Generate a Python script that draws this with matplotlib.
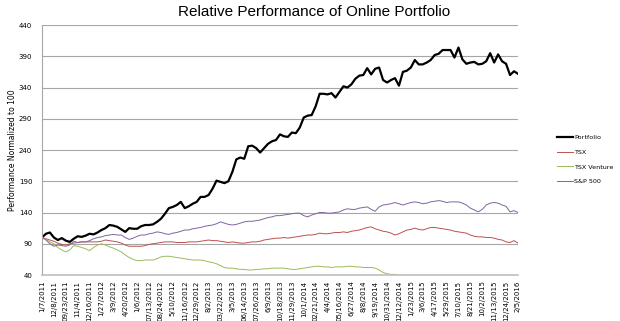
import matplotlib
matplotlib.use("Agg")
import matplotlib.pyplot as plt
import numpy as np

# category labels shown on the x axis (one every 3 data points)
tick_labels = ['1/7/2011', '12/8/2011', '09/23/2011', '11/4/2011', '12/16/2011', '1/27/2012',
               '3/9/2012', '4/20/2012', '1/6/2012', '07/13/2012', '08/24/2012', '5/10/2012',
               '11/16/2012', '12/29/2012', '8/2/2013', '03/22/2013', '3/5/2013', '06/14/2013',
               '07/26/2013', '6/9/2013', '10/18/2013', '11/29/2013', '10/1/2014', '02/21/2014',
               '4/4/2014', '05/16/2014', '6/27/2014', '8/8/2014', '9/19/2014', '10/31/2014',
               '12/12/2014', '1/23/2015', '3/6/2015', '4/17/2015', '5/29/2015', '7/10/2015',
               '8/21/2015', '10/2/2015', '11/13/2015', '12/24/2015', '2/5/2016']

portfolio = [100, 106, 108, 100, 96, 99, 95, 93, 98, 102, 101, 103, 106, 105, 108, 112, 115, 120,
             119, 117, 113, 109, 115, 114, 114, 118, 120, 120, 121, 125, 130, 138, 147, 149, 152,
             157, 147, 150, 154, 157, 165, 165, 168, 178, 191, 189, 187, 190, 205, 225, 228, 226,
             246, 247, 243, 236, 243, 250, 254, 256, 265, 262, 261, 268, 267, 276, 292, 295, 296,
             310, 330, 330, 329, 331, 324, 333, 342, 340, 345, 354, 359, 360, 371, 361, 370, 372,
             352, 348, 352, 355, 343, 365, 367, 372, 384, 377, 377, 380, 384, 392, 394, 400, 400,
             400, 388, 404, 385, 378, 380, 381, 377, 378, 382, 395, 380, 393, 382, 378, 360, 366,
             362]

tsx = [100, 98, 96, 94, 91, 89, 88, 90, 91, 92, 93, 93, 93, 93, 93, 94, 96, 95, 94, 93, 91, 88,
       86, 86, 86, 86, 87, 89, 90, 91, 92, 93, 93, 93, 92, 92, 92, 93, 93, 93, 94, 95, 96, 95, 95,
       94, 93, 92, 93, 92, 91, 91, 92, 93, 93, 94, 96, 97, 98, 99, 99, 100, 99, 100, 101, 102, 103,
       104, 104, 105, 107, 106, 106, 107, 108, 108, 109, 108, 110, 111, 112, 114, 116, 117, 114,
       112, 110, 109, 107, 104, 106, 109, 112, 113, 115, 113, 112, 114, 116, 116, 115, 114, 113,
       112, 110, 109, 108, 107, 104, 102, 101, 101, 100, 100, 99, 97, 96, 93, 92, 95, 91]

tsx_venture = [100, 97, 93, 90, 84, 80, 77, 80, 87, 86, 84, 82, 79, 84, 88, 90, 88, 85, 83, 80,
               77, 72, 68, 65, 63, 63, 64, 64, 64, 66, 69, 70, 70, 69, 68, 67, 66, 65, 64, 64, 64,
               63, 61, 60, 58, 55, 52, 51, 51, 50, 49, 49, 48, 48, 49, 49, 50, 50, 51, 51, 51, 51,
               50, 49, 49, 50, 51, 52, 53, 54, 54, 53, 53, 52, 53, 53, 53, 54, 54, 53, 53, 52, 52,
               52, 51, 48, 44, 42, 41, 41, 40] + [np.nan] * 30

sp500 = [100, 96, 90, 86, 88, 87, 86, 88, 94, 92, 93, 93, 95, 98, 100, 101, 103, 104, 105, 104,
         104, 100, 97, 99, 102, 104, 104, 106, 107, 109, 108, 106, 105, 107, 108, 110, 112, 112,
         114, 115, 116, 118, 119, 120, 122, 125, 123, 121, 120, 121, 123, 125, 126, 126, 127, 128,
         130, 132, 133, 135, 135, 136, 137, 138, 139, 139, 135, 133, 136, 138, 140, 140, 139, 139,
         140, 141, 144, 146, 145, 145, 147, 148, 149, 145, 142, 149, 152, 153, 154, 156, 154, 152,
         154, 156, 157, 156, 154, 155, 157, 158, 159, 158, 156, 157, 157, 157, 155, 152, 147, 144,
         141, 145, 152, 155, 156, 155, 152, 150, 141, 143, 140]

x = np.arange(len(portfolio))

fig = plt.figure(figsize=(6.2, 3.21), dpi=100)
ax = fig.add_axes([0.0677, 0.1433, 0.7677, 0.7787])

ax.plot(x, portfolio, color='black', lw=1.6, label='Portfolio')
ax.plot(x, tsx, color='#c0504d', lw=0.7, label='TSX')
ax.plot(x, tsx_venture, color='#9bbb59', lw=0.7, label='TSX Venture')
ax.plot(x, sp500, color='#8064a2', lw=0.7, label='S&P 500')

ax.set_ylim(40, 440)
ax.set_yticks(range(40, 441, 50))
ax.set_xlim(0, len(portfolio) - 1)
ax.set_xticks(x[::3])
ax.set_xticklabels(tick_labels, rotation=90, fontsize=5, family='DejaVu Sans')
ax.tick_params(axis='y', labelsize=5, length=0, pad=7)
ax.tick_params(axis='x', length=0, pad=4)
ax.grid(axis='y', color='#a6a6a6', lw=0.8)
ax.set_axisbelow(True)
for side in ['top', 'right']:
    ax.spines[side].set_visible(False)
ax.spines['left'].set_color('#a6a6a6')
ax.spines['bottom'].set_color('#bfbfbf')
ax.spines['bottom'].set_linewidth(1.2)

ax.set_ylabel('Performance Normalized to 100', fontsize=5.5, labelpad=1)

fig.text(0.507, 0.962, 'Relative Performance of Online Portfolio', ha='center', va='center',
         fontsize=11, family='Liberation Sans')

ax.legend(loc='center left', bbox_to_anchor=(0.898, 0.503), bbox_transform=fig.transFigure,
          frameon=False, fontsize=4.6, handlelength=2.6, handletextpad=0.1, labelspacing=1.45,
          borderpad=0, borderaxespad=0)

fig.savefig('out.png', dpi=100)
